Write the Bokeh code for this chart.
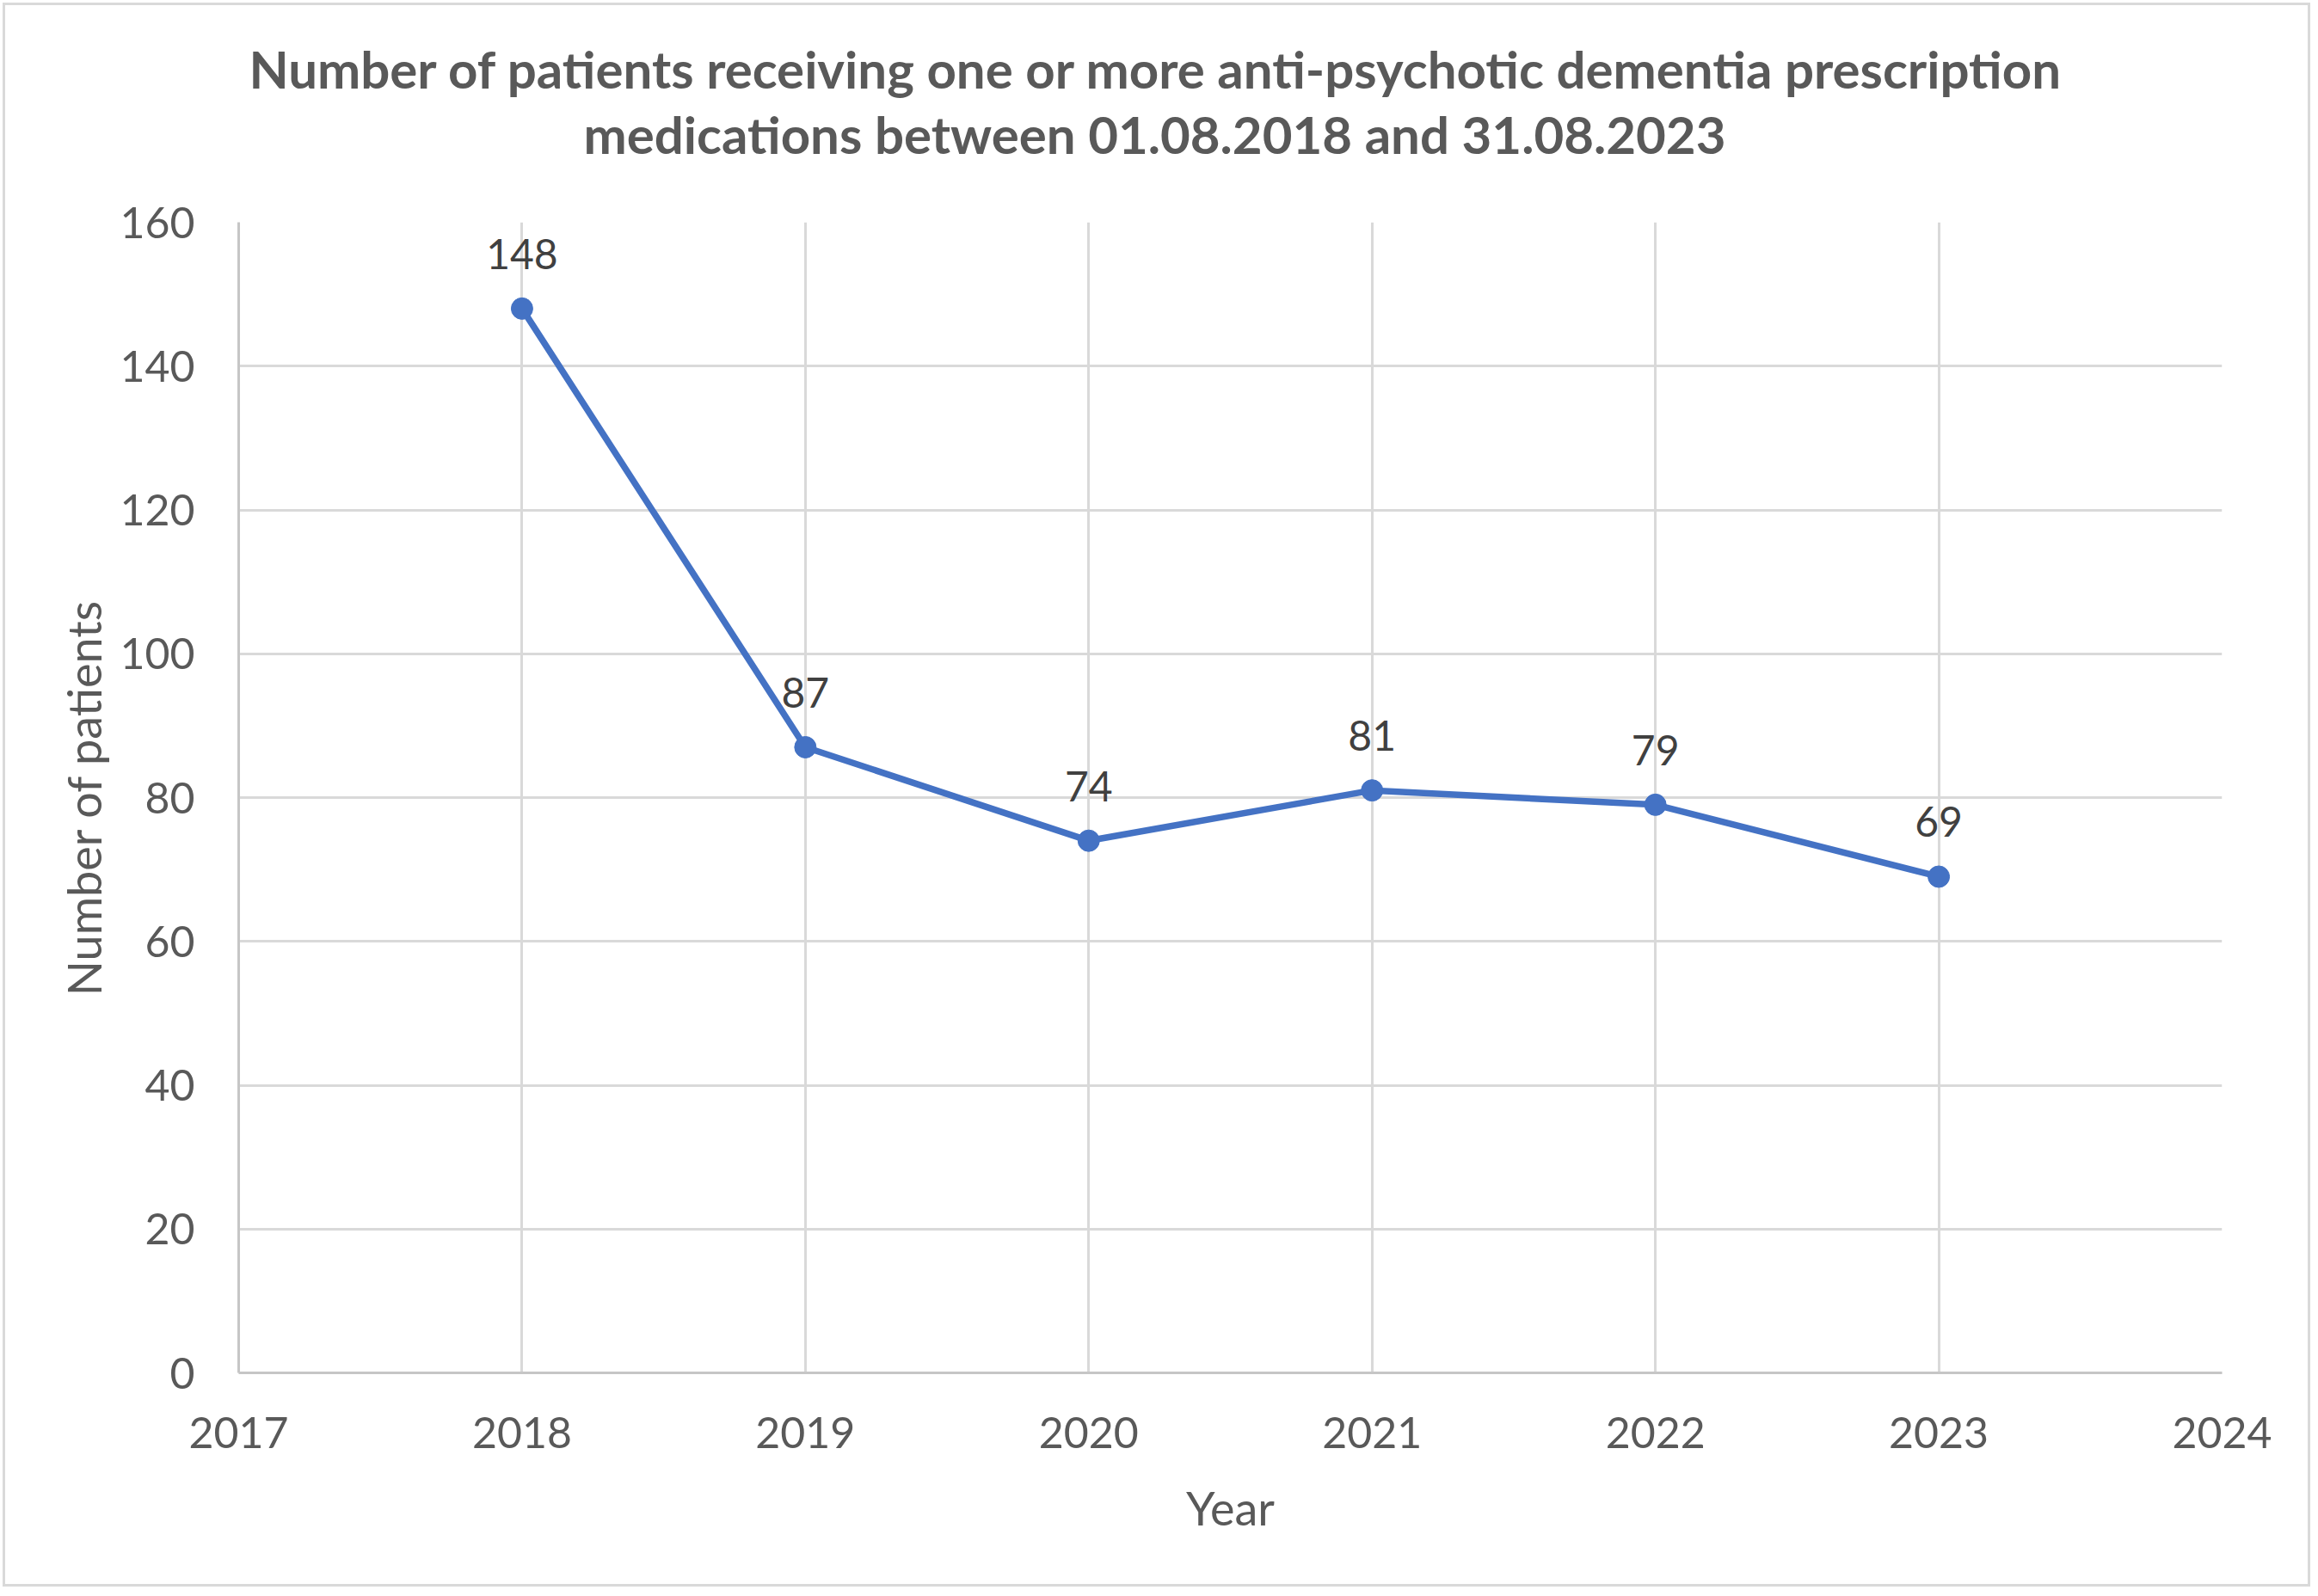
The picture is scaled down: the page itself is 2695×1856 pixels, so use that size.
from bokeh.plotting import figure
from bokeh.models import ColumnDataSource, LabelSet, FixedTicker, Range1d, Title
from bokeh.core.properties import value
from bokeh.embed import file_html
from bokeh.resources import INLINE

# ---- data ----
years = [2018, 2019, 2020, 2021, 2022, 2023]
patients = [148, 87, 74, 81, 79, 69]
x_ticks = [2017, 2018, 2019, 2020, 2021, 2022, 2023, 2024]
y_ticks = [0, 20, 40, 60, 80, 100, 120, 140, 160]
title_line1 = "Number of patients receiving one or more anti-psychotic dementia prescription"
title_line2 = "medications between 01.08.2018 and 31.08.2023"
x_label = "Year"
y_label = "Number of patients"

W, H = 2683, 1842
FONT = "Lato"
GREY = "#595959"

p = figure(width=W, height=H, output_backend="svg", toolbar_location=None,
           x_range=Range1d(x_ticks[0], x_ticks[-1]),
           y_range=Range1d(y_ticks[0], y_ticks[-1]),
           min_border_left=271, min_border_right=106,
           min_border_top=252, min_border_bottom=252)
p.outline_line_color = None
p.background_fill_color = "white"
p.border_fill_color = "white"
p.styles = {"border": "3px solid #D9D9D9", "margin": "3px"}

t2 = Title(text=title_line2, align="left", offset=401, text_font=FONT,
           text_font_size="60px", text_font_style="bold", text_color=GREY,
           standoff=134)
t1 = Title(text=title_line1, align="left", offset=12, text_font=FONT,
           text_font_size="60px", text_font_style="bold", text_color=GREY,
           standoff=-130)
p.add_layout(t2, "above")
p.add_layout(t1, "above")

for ax in (p.xaxis[0], p.yaxis[0]):
    ax.major_tick_line_color = None
    ax.minor_tick_line_color = None
    ax.axis_line_color = "#C6C6C6"
    ax.axis_line_width = 3
    ax.major_label_text_font = FONT
    ax.major_label_text_font_size = "50px"
    ax.major_label_text_color = GREY
    ax.axis_label_text_font = FONT
    ax.axis_label_text_font_size = "54px"
    ax.axis_label_text_font_style = "normal"
    ax.axis_label_text_color = GREY

p.xaxis.ticker = FixedTicker(ticks=x_ticks)
p.yaxis.ticker = FixedTicker(ticks=y_ticks)
p.xaxis.axis_label = x_label
p.yaxis.axis_label = y_label
p.xaxis.major_label_standoff = 45
p.yaxis.major_label_standoff = 45
p.xaxis.axis_label_standoff = 34
p.yaxis.axis_label_standoff = 6

for g in (p.xgrid[0], p.ygrid[0]):
    g.grid_line_color = "#D9D9D9"
    g.grid_line_width = 3
p.xgrid.ticker = FixedTicker(ticks=x_ticks)
p.ygrid.ticker = FixedTicker(ticks=y_ticks)

src = ColumnDataSource(dict(x=years, y=patients, lab=[str(v) for v in patients]))
p.line("x", "y", source=src, line_color="#4472C4", line_width=7.5)
p.scatter("x", "y", source=src, size=25, fill_color="#4472C4", line_color="#4472C4")

labels = LabelSet(x="x", y="y", text="lab", source=src, y_offset=46,
                  text_align="center", text_baseline="alphabetic",
                  text_font=value(FONT), text_font_size=value("48px"),
                  text_color=value("#404040"))
p.add_layout(labels)

open("out.html", "w").write(file_html(p, INLINE))
